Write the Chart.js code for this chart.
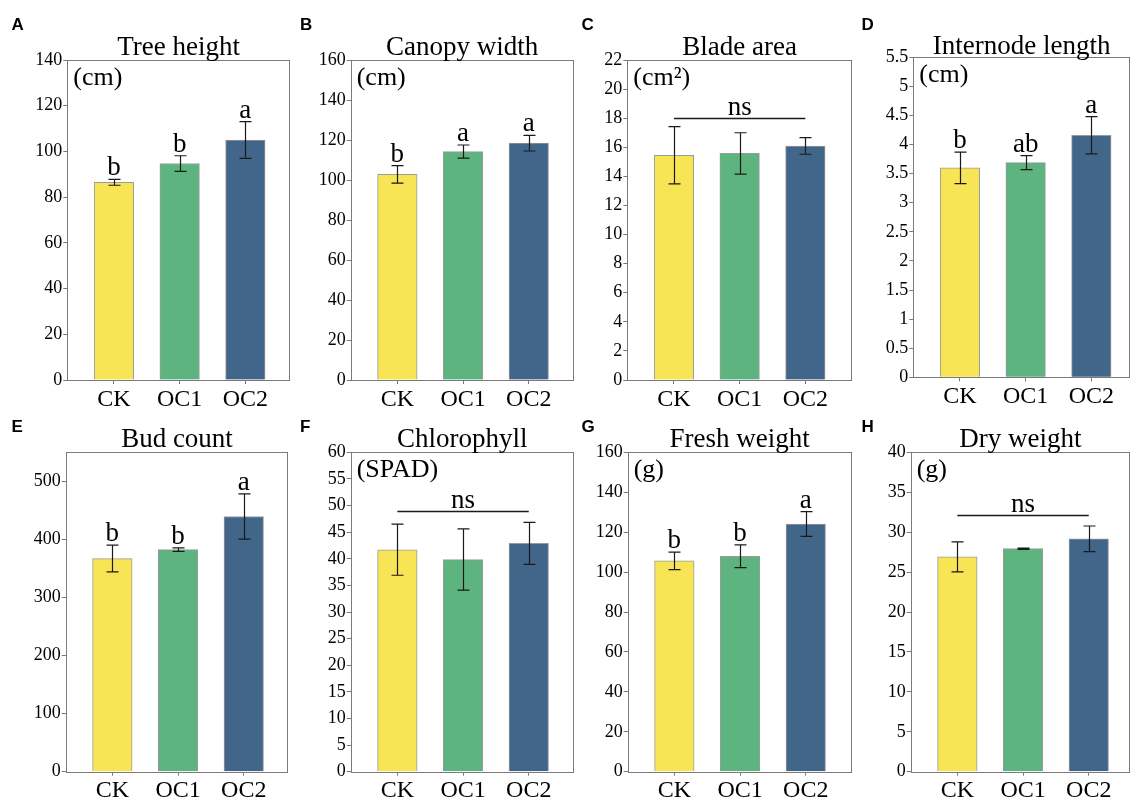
<!DOCTYPE html>
<html><head><meta charset="utf-8">
<script src="https://cdn.jsdelivr.net/npm/chart.js@4/dist/chart.umd.min.js"></script>
<style>
html,body{margin:0;padding:0;background:#fff;}
#wrap{position:relative;width:1132px;height:799px;overflow:hidden;background:#fff;}
canvas{position:absolute;}
</style></head><body><div id="wrap"></div>
<script>
// ---------------- data ----------------
const categories = ['CK', 'OC1', 'OC2'];
const panelLetters = ['A', 'B', 'C', 'D', 'E', 'F', 'G', 'H'];
const titles = ['Tree height', 'Canopy width', 'Blade area', 'Internode length', 'Bud count', 'Chlorophyll', 'Fresh weight', 'Dry weight'];
const units = ['(cm)', '(cm)', '(cm\u00B2)', '(cm)', '', '(SPAD)', '(g)', '(g)'];
const yMax = [140, 160, 22, 5.5, 550, 60, 160, 40];
const yStep = [20, 20, 2, 0.5, 100, 5, 20, 5];

const treeHeight = [86.5, 94.7, 105.0];
const treeHeightSE = [1.3, 3.4, 8.0];
const treeHeightSig = ['b', 'b', 'a'];

const canopyWidth = [102.8, 114.2, 118.4];
const canopyWidthSE = [4.4, 3.3, 3.9];
const canopyWidthSig = ['b', 'a', 'a'];

const bladeArea = [15.45, 15.58, 16.09];
const bladeAreaSE = [1.97, 1.42, 0.57];
const bladeAreaNs = 18.0;

const internodeLength = [3.60, 3.69, 4.16];
const internodeLengthSE = [0.27, 0.12, 0.32];
const internodeLengthSig = ['b', 'ab', 'a'];

const budCount = [367, 382.5, 439.5];
const budCountSE = [23, 3, 39];
const budCountSig = ['b', 'b', 'a'];

const chlorophyll = [41.7, 39.85, 42.9];
const chlorophyllSE = [4.8, 5.75, 3.95];
const chlorophyllNs = 48.9;

const freshWeight = [105.6, 107.9, 124.1];
const freshWeightSE = [4.4, 5.7, 6.2];
const freshWeightSig = ['b', 'b', 'a'];

const dryWeight = [26.9, 27.93, 29.17];
const dryWeightSE = [1.88, 0.08, 1.6];
const dryWeightNs = 32.2;

// ---------------- styles / layout ----------------
const barColors = ['#F8E555', '#5EB47F', '#41668A'];
const SERIF = "'Liberation Serif','Times New Roman',serif";
const SANS = "'Liberation Sans',Arial,sans-serif";
Chart.defaults.font.family = SERIF;
Chart.defaults.color = '#000';

// plot boxes in page coordinates
const boxes = [
  {cx: 0,   cy: 0,   ch: 412, l: 67.3,  r: 290,   t: 60,    b: 380,   ty: 54.5, lx: 11.5,  ly: 30},
  {cx: 280, cy: 0,   ch: 412, l: 350.7, r: 573.5, t: 60,    b: 380,   ty: 54.5, lx: 300,   ly: 30},
  {cx: 560, cy: 0,   ch: 412, l: 627.3, r: 852,   t: 60,    b: 380,   ty: 54.5, lx: 581.5, ly: 30},
  {cx: 840, cy: 0,   ch: 412, l: 913.3, r: 1130,  t: 57.3,  b: 377.3, ty: 53.5, lx: 861.5, ly: 30},
  {cx: 0,   cy: 400, ch: 399, l: 65.7,  r: 288.3, t: 452.3, b: 771.7, ty: 446.5, lx: 11.5, ly: 432},
  {cx: 280, cy: 400, ch: 399, l: 350.7, r: 574,   t: 452.3, b: 771.7, ty: 446.5, lx: 300,  ly: 432},
  {cx: 560, cy: 400, ch: 399, l: 627.7, r: 851.7, t: 452.3, b: 771.7, ty: 446.5, lx: 581.5, ly: 432},
  {cx: 840, cy: 400, ch: 399, l: 910.7, r: 1130,  t: 452.3, b: 771.7, ty: 446.5, lx: 861.5, ly: 432}
];

const panels = [
  {vals: treeHeight, err: treeHeightSE, sig: treeHeightSig, ns: null},
  {vals: canopyWidth, err: canopyWidthSE, sig: canopyWidthSig, ns: null},
  {vals: bladeArea, err: bladeAreaSE, sig: null, ns: bladeAreaNs},
  {vals: internodeLength, err: internodeLengthSE, sig: internodeLengthSig, ns: null},
  {vals: budCount, err: budCountSE, sig: budCountSig, ns: null},
  {vals: chlorophyll, err: chlorophyllSE, sig: null, ns: chlorophyllNs},
  {vals: freshWeight, err: freshWeightSE, sig: freshWeightSig, ns: null},
  {vals: dryWeight, err: dryWeightSE, sig: null, ns: dryWeightNs}
];

const wrap = document.getElementById('wrap');

function makePanel(i) {
  const B = boxes[i];
  const P = panels[i];
  const cw = Math.round(B.r + 3 - B.cx);
  const ch = B.ch;
  const canvas = document.createElement('canvas');
  canvas.width = cw; canvas.height = ch;
  canvas.style.left = B.cx + 'px'; canvas.style.top = B.cy + 'px';
  canvas.style.width = cw + 'px'; canvas.style.height = ch + 'px';
  wrap.appendChild(canvas);

  const spacing = 65.7;
  const xMin = -0.71;
  const xMax = xMin + (B.r - B.l) / spacing;

  const overlay = {
    id: 'overlay' + i,
    afterDatasetsDraw(chart) {
      const ctx = chart.ctx;
      const xs = chart.scales.x, ys = chart.scales.y;
      const a = chart.chartArea;
      ctx.save();
      // frame
      ctx.strokeStyle = '#7a7a7a';
      ctx.lineWidth = 1;
      ctx.strokeRect(Math.round(a.left) + 0.5, Math.round(a.top) + 0.5,
                     Math.round(a.right) - Math.round(a.left) - 1, Math.round(a.bottom) - Math.round(a.top));
      // error bars
      ctx.strokeStyle = '#1a1a1a';
      ctx.lineWidth = 1.2;
      P.vals.forEach((v, k) => {
        const x = Math.round(xs.getPixelForValue(k)) + 0.5;
        const yT = ys.getPixelForValue(v + P.err[k]);
        const yB = ys.getPixelForValue(v - P.err[k]);
        ctx.beginPath();
        ctx.moveTo(x, yT); ctx.lineTo(x, yB);
        ctx.moveTo(x - 6, yT); ctx.lineTo(x + 6, yT);
        ctx.moveTo(x - 6, yB); ctx.lineTo(x + 6, yB);
        ctx.stroke();
      });
      // significance letters
      ctx.fillStyle = '#000';
      ctx.font = '27px ' + SERIF;
      ctx.textAlign = 'center';
      ctx.textBaseline = 'alphabetic';
      if (P.sig) {
        P.vals.forEach((v, k) => {
          const x = xs.getPixelForValue(k);
          const yT = ys.getPixelForValue(v + P.err[k]);
          ctx.fillText(P.sig[k], x, yT - 4);
        });
      }
      if (P.ns !== null) {
        const y = Math.round(ys.getPixelForValue(P.ns)) + 0.5;
        ctx.beginPath();
        ctx.lineWidth = 1.5;
        ctx.moveTo(xs.getPixelForValue(0), y);
        ctx.lineTo(xs.getPixelForValue(2), y);
        ctx.stroke();
        ctx.fillText('ns', xs.getPixelForValue(1), y - 4);
      }
      // unit label
      if (units[i]) {
        ctx.textAlign = 'left';
        ctx.font = '26px ' + SERIF;
        ctx.fillText(units[i], a.left + 6, a.top + 25);
      }
      // title
      ctx.textAlign = 'center';
      ctx.font = '27px ' + SERIF;
      ctx.fillText(titles[i], (a.left + a.right) / 2, B.ty - B.cy);
      // panel letter
      ctx.textAlign = 'left';
      ctx.font = 'bold 17px ' + SANS;
      ctx.fillText(panelLetters[i], B.lx - B.cx, B.ly - B.cy);
      ctx.restore();
    }
  };

  new Chart(canvas, {
    type: 'bar',
    data: {
      datasets: [{
        data: P.vals.map((v, k) => ({x: k, y: v})),
        backgroundColor: barColors,
        borderColor: '#9a9a9a',
        borderWidth: 1,
        barThickness: 39.5
      }]
    },
    options: {
      responsive: false,
      animation: false,
      devicePixelRatio: 1,
      layout: {padding: {left: 0, top: B.t - B.cy, right: cw - (B.r - B.cx), bottom: 0}},
      plugins: {legend: {display: false}, tooltip: {enabled: false}, title: {display: false}},
      scales: {
        x: {
          type: 'linear',
          offset: false,
          min: xMin, max: xMax,
          afterBuildTicks: s => { s.ticks = categories.map((c, k) => ({value: k})); },
          afterFit: s => { s.height = ch - (B.b - B.cy); },
          ticks: {
            callback: v => categories[v],
            font: {size: 24, family: SERIF},
            color: '#000',
            padding: 1,
            maxRotation: 0,
            autoSkip: false
          },
          grid: {display: true, offset: false, drawOnChartArea: false, drawTicks: true, tickLength: 4, color: '#7a7a7a'},
          border: {display: false}
        },
        y: {
          min: 0, max: yMax[i],
          afterBuildTicks: s => {
            const st = yStep[i];
            s.ticks = s.ticks.filter(t => Math.abs(t.value / st - Math.round(t.value / st)) < 1e-6 && t.value <= Math.floor(yMax[i] / st + 1e-9) * st + 1e-9);
          },
          afterFit: s => { s.width = B.l - B.cx; },
          ticks: {
            stepSize: yStep[i],
            callback: v => String(Math.round(v * 100) / 100),
            font: {size: 18, family: SERIF},
            color: '#000',
            padding: 1
          },
          grid: {display: true, drawOnChartArea: false, drawTicks: true, tickLength: 4, color: '#7a7a7a'},
          border: {display: false}
        }
      }
    },
    plugins: [overlay]
  });
}

for (let i = 0; i < 8; i++) makePanel(i);
</script>
</body></html>
